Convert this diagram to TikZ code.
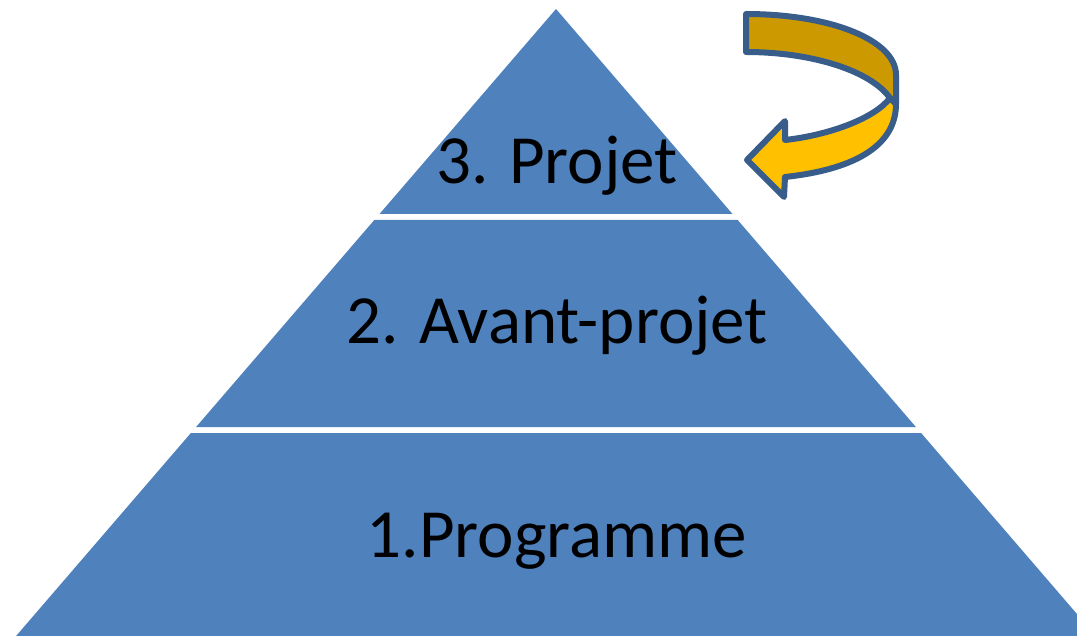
\documentclass[tikz,border=0pt]{standalone}
\usepackage{fontspec}
\setmainfont{Carlito}
\definecolor{pyrblue}{HTML}{4F81BD}
\definecolor{arrowedge}{HTML}{385D8A}
\definecolor{arrowback}{HTML}{CC9A00}
\definecolor{arrowfront}{HTML}{FFC000}
\begin{document}
\begin{tikzpicture}[x=1pt,y=-1pt,
  band/.style={fill=pyrblue},
  lbl/.style={font=\fontsize{69}{80}\selectfont, text=black, anchor=base, inner sep=0pt},
  arrowline/.style={draw=arrowedge, line width=6pt, line join=round}]
\useasboundingbox (0,0) rectangle (1077,636);
\begin{scope}
\clip (0,0) rectangle (1077,636);
% pyramid bands
\path[band] (556,9) -- (732.5,214) -- (379.5,214) -- cycle;
\path[band] (374.3,220) -- (737.7,220) -- (915.9,427) -- (196.1,427) -- cycle;
\path[band] (190.9,433) -- (921.1,433) -- (1095.9,636) -- (16.1,636) -- cycle;
\end{scope}
% labels
\node[lbl] (l3) at (557,184) {3. Projet};
\node[lbl] (l2) at (557,344) {2. Avant-projet};
\node[lbl] (l1) at (557,557) {1.Programme};
% curved arrow: front face
\path[arrowline, fill=arrowfront] (890,98) -- (896,104)
  .. controls (896,148) and (850,170) .. (785,177)
  -- (784,197) -- (747,160) -- (785,121) -- (785,140)
  .. controls (830,135) and (875,118) .. (890,98) -- cycle;
% curved arrow: back face
\path[arrowline, fill=arrowback] (746,14)
  .. controls (830,14) and (896,40) .. (896,75)
  -- (896,104) -- (890,98)
  .. controls (870,70) and (810,52) .. (746,52) -- cycle;
\end{tikzpicture}
\end{document}
